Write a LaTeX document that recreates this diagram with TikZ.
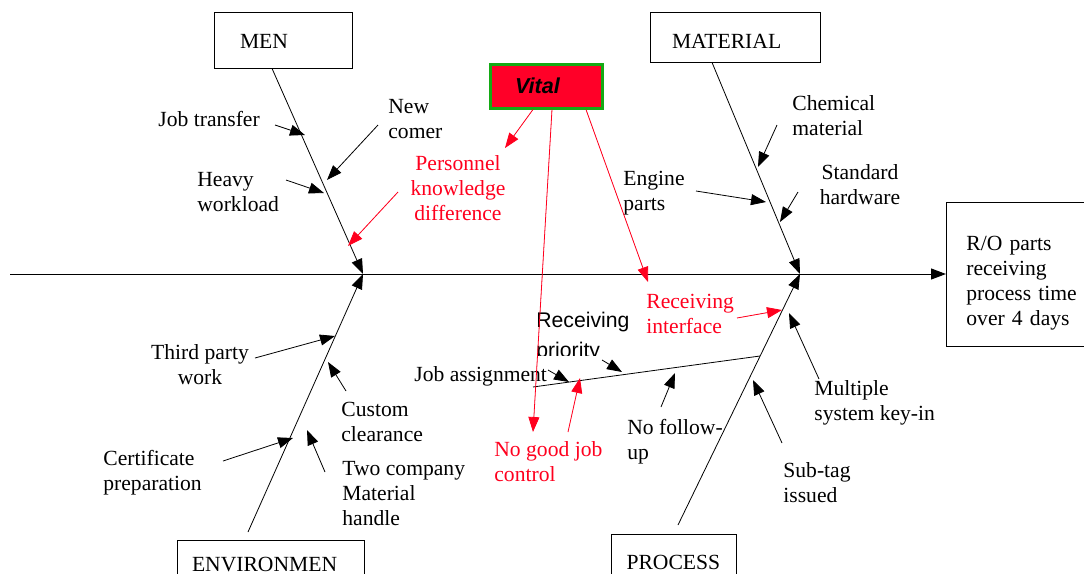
\documentclass[tikz,border=0pt]{standalone}
\usepackage{fontspec}
\setmainfont{Liberation Serif}
\newfontfamily\arialfont{Liberation Sans}
\usepackage{tikz}
\usetikzlibrary{positioning}
\usetikzlibrary{arrows.meta}

\definecolor{vitalred}{RGB}{255,0,40}
\definecolor{vitalgreen}{RGB}{20,170,20}
\definecolor{notered}{RGB}{255,0,30}
\newcommand{\fishfont}{\fontsize{10.8}{12.5}\selectfont}

\tikzset{
  box/.style={draw,thin,align=left,font=\fishfont},
  cause/.style={font=\fishfont,align=left,inner sep=0pt,anchor=west},
  note/.style={cause,text=notered},
  bone/.style={-{Triangle[length=7.5pt,width=5.5pt]}},
  hint/.style={-{Triangle[length=7.5pt,width=5.5pt]},draw=notered,fill=notered},
}

\begin{document}
\begin{tikzpicture}[x=0.5pt,y=-0.5pt]
		\clip (0,0) rectangle (1084,574);
		
		% category boxes
		\node[box,text width=43pt,inner xsep=13pt,minimum height=28pt] (men) at (283,40) {\rule{0pt}{8pt}MEN};
		\node[box,text width=63pt,inner xsep=11pt,minimum height=25pt] (mat) at (735,37) {\rule{0pt}{11pt}MATERIAL};
		\node[box,text width=78.5pt,inner xsep=7.5pt,inner ysep=8.5pt,anchor=north] (env) at (270.5,540) {ENVIRONMEN};
		\node[box,text width=47pt,inner xsep=7.75pt,inner ysep=10.5pt,anchor=north] (proc) at (673.5,534) {PROCESS};
		\node[box,anchor=west,text width=60pt,inner xsep=10pt,minimum height=72pt] (effect) at (946,274) {\rule{0pt}{16.5pt}R/O parts\\receiving\\process time\\over 4 days};
		\node[draw=vitalgreen,line width=1.5pt,fill=vitalred,align=left,text width=31pt,inner xsep=12.5pt,minimum height=22pt,
		      font=\arialfont\fontsize{10.8}{12.5}\selectfont\bfseries\itshape] (vital) at (546,86) {Vital};
		
		% spine
		\coordinate (tail) at (10,274);
		\coordinate (hubL) at (363,274);
		\coordinate (hubR) at (800,274);
		\draw[bone,line width=0.5pt] (tail) -- (effect.west);
		
		% main bones
		\draw[bone] ([xshift=-5.5pt]men.south) -- (hubL);
		\draw[bone] ([xshift=-11.5pt]mat.south) -- (hubR);
		\draw[bone] ([xshift=-11.25pt,yshift=4pt]env.north) -- (hubL);
		\draw[bone] ([xshift=2.25pt,yshift=4.5pt]proc.north) -- (hubR);
		
		% MEN
		\node[cause] (jt) at (158,119) {Job transfer};
		\node[cause] (nc) at (388,119) {New\\comer};
		\node[cause] (hw) at (197,192) {Heavy\\workload};
		\node[note,align=center,anchor=center] (pk) at (458,188) {Personnel\\knowledge\\difference};
		\coordinate (jtA) at (275,125); \coordinate (jtB) at (305,135);
		\coordinate (ncA) at (378,125); \coordinate (ncB) at (327,180);
		\coordinate (hwA) at (286,180); \coordinate (hwB) at (324,193);
		\coordinate (pkA) at (398,192); \coordinate (pkB) at (348,246);
		\draw[bone] (jtA) -- (jtB);
		\draw[bone] (ncA) -- (ncB);
		\draw[bone] (hwA) -- (hwB);
		\draw[hint] (pkA) -- (pkB);
		
		% MATERIAL
		\node[cause] (cm) at (792,115.5) {Chemical\\material};
		\node[cause,align=center,anchor=center] (sh) at (860,185) {Standard\\hardware};
		\node[cause] (ep) at (623,193.5) {Engine\\parts};
		\node[note] (ri) at (646,314) {Receiving\\interface};
		\coordinate (cmA) at (777,125); \coordinate (cmB) at (758,167);
		\coordinate (shA) at (798,192); \coordinate (shB) at (780,222);
		\coordinate (epA) at (696,191); \coordinate (epB) at (766,202);
		\coordinate (riA) at (737,318); \coordinate (riB) at (782,310);
		\draw[bone] (cmA) -- (cmB);
		\draw[bone] (shA) -- (shB);
		\draw[bone] (epA) -- (epB);
		\draw[hint] (riA) -- (riB);
		
		% ENVIRONMENT
		\node[cause,align=center,anchor=center] (tp) at (200,364.5) {Third party\\work};
		\node[cause] (cc) at (341,421.5) {Custom\\clearance};
		\node[cause] (cp) at (103,472.5) {Certificate\\preparation};
		\node[cause] (tc) at (342,494) {Two company\\Material\\handle};
		\coordinate (tpA) at (255,358); \coordinate (tpB) at (335,336);
		\coordinate (ccA) at (346,391); \coordinate (ccB) at (328,362);
		\coordinate (cpA) at (223,461); \coordinate (cpB) at (293,438);
		\coordinate (tcA) at (325,472); \coordinate (tcB) at (307,430);
		\draw[bone] (tpA) -- (tpB);
		\draw[bone] (ccA) -- (ccB);
		\draw[bone] (cpA) -- (cpB);
		\draw[bone] (tcA) -- (tcB);
		
		% PROCESS
		\coordinate (subA) at (533,387); \coordinate (subB) at (760,356);
		\draw (subA) -- (subB);
		\node[cause] (ja) at (414,376) {Job assignment};
		\begin{scope}
		\clip (520,300) rectangle (640,355);
		\node[cause,font=\arialfont\fontsize{10.6}{15}\selectfont] (prio) at (536,337) {Receiving\\priority};
		\end{scope}
		\node[note] (ng) at (494,462) {No good job\\control};
		\node[cause] (nf) at (627,442) {No follow-\\up};
		\node[cause] (ms) at (814,402.5) {Multiple\\system key-in};
		\node[cause] (st) at (783,483) {Sub-tag\\issued};
		\coordinate (jaA) at (548,370); \coordinate (jaB) at (569,382);
		\coordinate (rpA) at (602,360); \coordinate (rpB) at (622,372);
		\coordinate (ngA) at (568,432); \coordinate (ngB) at (580,378);
		\coordinate (nfA) at (661,407); \coordinate (nfB) at (675,373);
		\coordinate (msA) at (819,379); \coordinate (msB) at (789,313);
		\coordinate (stA) at (782,443); \coordinate (stB) at (753,380);
		\draw[bone] (jaA) -- (jaB);
		\draw[bone] (rpA) -- (rpB);
		\draw[hint] (ngA) -- (ngB);
		\draw[bone] (nfA) -- (nfB);
		\draw[bone] (msA) -- (msB);
		\draw[bone] (stA) -- (stB);
		
		% vital links
		\coordinate (vpk) at (505,148);
		\coordinate (vng) at (533,432);
		\coordinate (vri) at (648,282);
		\draw[hint] ([xshift=-6.5pt]vital.south) -- (vpk);
		\draw[hint] ([xshift=3pt]vital.south) -- (vng);
		\draw[hint] ([xshift=20pt]vital.south) -- (vri);
\end{tikzpicture}
\end{document}
